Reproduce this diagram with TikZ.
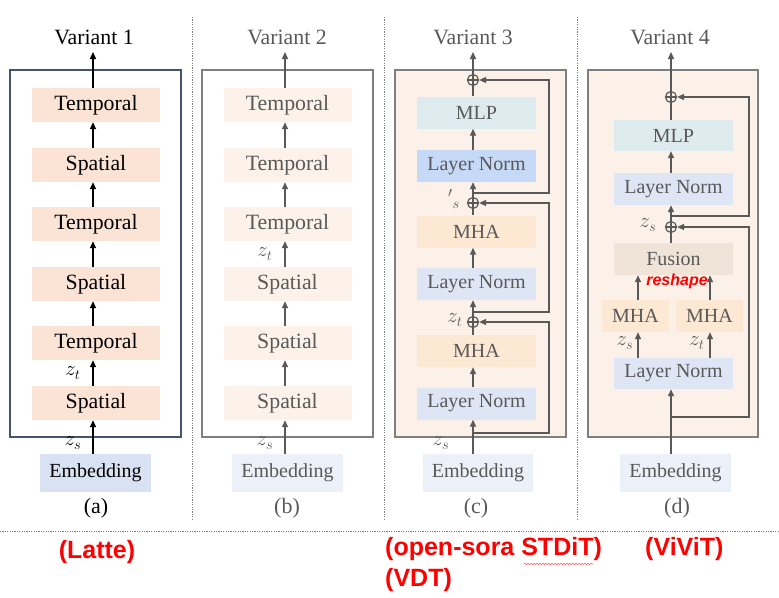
\documentclass[tikz,border=0pt]{standalone}
\usepackage{fontspec}
\setmainfont{Liberation Serif}
\newfontfamily\redfont{Liberation Sans}
\usetikzlibrary{arrows.meta,decorations.pathmorphing}
\definecolor{dkline}{HTML}{44546A}
\definecolor{gline}{HTML}{7F7F7F}
\definecolor{gtext}{HTML}{595959}
\definecolor{peach}{HTML}{FBE4D5}
\definecolor{lpeach}{HTML}{FDF2EA}
\definecolor{boxfill}{HTML}{FCF1E8}
\definecolor{embA}{HTML}{D9E2F3}
\definecolor{embB}{HTML}{ECF0F9}
\definecolor{mlpc}{HTML}{DDEBEF}
\definecolor{lnstrong}{HTML}{C6D9F7}
\definecolor{lnc}{HTML}{DEE5F4}
\definecolor{mhac}{HTML}{FDE8D3}
\definecolor{fusc}{HTML}{F0E3D8}
\definecolor{redc}{HTML}{FF0000}
\begin{document}
\begin{tikzpicture}[x=1pt,y=-1pt]
\tikzset{
  blk/.style={rectangle, inner sep=0pt, minimum width=128pt, minimum height=34pt, font=\fontsize{21.8}{24}\selectfont},
  blkA/.style={blk, fill=peach, text=black},
  blkB/.style={blk, fill=lpeach, text=gtext},
  blkC/.style={rectangle, inner sep=0pt, minimum width=119pt, minimum height=32pt, font=\fontsize{20}{24}\selectfont, text=gtext},
  embstyle/.style={rectangle, inner sep=0pt, minimum width=111pt, minimum height=38pt, font=\fontsize{20}{24}\selectfont},
  ttl/.style={font=\fontsize{21.8}{24}\selectfont, inner sep=0pt},
  subcap/.style={font=\fontsize{22}{24}\selectfont, inner sep=0pt},
  zl/.style={font=\fontsize{20}{22}\selectfont, inner sep=0pt},
  arrA/.style={-{Triangle[length=7pt,width=6pt]}, line width=1.5pt, draw=black},
  arrB/.style={-{Triangle[length=7pt,width=6pt]}, line width=1.4pt, draw=gtext},
  lnB/.style={line width=1.4pt, draw=gtext},
  oplus/.style={circle, draw=gtext, line width=1.2pt, minimum size=11pt, inner sep=0pt,
    path picture={\draw[gtext, line width=1.2pt] (path picture bounding box.north) -- (path picture bounding box.south) (path picture bounding box.west) -- (path picture bounding box.east);}},
  sep/.style={draw=gline, line width=0.8pt, dash pattern=on 1.2pt off 1.2pt},
  redlbl/.style={font=\redfont\bfseries\fontsize{25}{28}\selectfont, text=redc, inner sep=0pt}
}
\useasboundingbox (0,0) rectangle (779,597);

% separators
\coordinate (v1t) at (192,17); \coordinate (v1b) at (192,520);
\coordinate (v2t) at (384,17); \coordinate (v2b) at (384,520);
\coordinate (v3t) at (577,17); \coordinate (v3b) at (577,520);
\coordinate (hl) at (0,531); \coordinate (hr) at (779,531);
\draw[sep] (v1t) -- (v1b);
\draw[sep] (v2t) -- (v2b);
\draw[sep] (v3t) -- (v3b);
\draw[sep] (hl) -- (hr);

%%%%%%%%%% Variant 1
\node[draw=dkline, line width=1.2pt, minimum width=171pt, minimum height=367pt, inner sep=0pt] (bx1) at (95.5,253.5) {};
\node[ttl] (t1) at (94,37) {Variant 1};
\node[blkA] (a1) at (96,105) {Temporal};
\node[blkA] (a2) at (96,165) {Spatial};
\node[blkA] (a3) at (96,224) {Temporal};
\node[blkA] (a4) at (96,284) {Spatial};
\node[blkA] (a5) at (96,343) {Temporal};
\node[blkA] (a6) at (96,403) {Spatial};
\node[embstyle, fill=embA, text=black] (e1) at (95.5,473) {Embedding};
\node[subcap] (c1) at (96,508) {(a)};
\coordinate (ax1) at (93,0);
\coordinate (top1) at (93,52);
\draw[arrA] (e1.north -| ax1) -- (a6.south -| ax1);
\draw[arrA] (a6.north -| ax1) -- (a5.south -| ax1);
\draw[arrA] (a5.north -| ax1) -- (a4.south -| ax1);
\draw[arrA] (a4.north -| ax1) -- (a3.south -| ax1);
\draw[arrA] (a3.north -| ax1) -- (a2.south -| ax1);
\draw[arrA] (a2.north -| ax1) -- (a1.south -| ax1);
\draw[arrA] (a1.north -| ax1) -- (top1);
\node[zl] (zt1) at (73,373) {$z_t$};
\node[zl] (zs1) at (73,443) {$z_s$};

%%%%%%%%%% Variant 2
\node[draw=gline, line width=1.2pt, minimum width=171pt, minimum height=367pt, inner sep=0pt] (bx2) at (287.5,253.5) {};
\node[ttl, text=gtext] (t2) at (287,37) {Variant 2};
\node[blkB] (b1) at (287.5,105) {Temporal};
\node[blkB] (b2) at (287.5,165) {Temporal};
\node[blkB] (b3) at (287.5,224) {Temporal};
\node[blkB] (b4) at (287.5,284) {Spatial};
\node[blkB] (b5) at (287.5,343) {Spatial};
\node[blkB] (b6) at (287.5,403) {Spatial};
\node[embstyle, fill=embB, text=gtext] (e2) at (287.5,473) {Embedding};
\node[subcap, text=gtext] (c2) at (287,508) {(b)};
\coordinate (ax2) at (285,0);
\coordinate (top2) at (285,52);
\draw[arrB] (e2.north -| ax2) -- (b6.south -| ax2);
\draw[arrB] (b6.north -| ax2) -- (b5.south -| ax2);
\draw[arrB] (b5.north -| ax2) -- (b4.south -| ax2);
\draw[arrB] (b4.north -| ax2) -- (b3.south -| ax2);
\draw[arrB] (b3.north -| ax2) -- (b2.south -| ax2);
\draw[arrB] (b2.north -| ax2) -- (b1.south -| ax2);
\draw[arrB] (b1.north -| ax2) -- (top2);
\node[zl, text=gtext] (zt2) at (265,254) {$z_t$};
\node[zl, text=gtext] (zs2) at (265,443) {$z_s$};

%%%%%%%%%% Variant 3
\node[draw=gline, fill=boxfill, line width=1.6pt, minimum width=171pt, minimum height=367pt, inner sep=0pt] (bx3) at (480.5,253.5) {};
\node[ttl, text=gtext] (t3) at (473,37) {Variant 3};
\node[blkC, fill=mlpc] (mlp3) at (476.5,112.5) {MLP};
\node[blkC, fill=lnstrong] (ln3a) at (476.5,166) {Layer Norm};
\node[blkC, fill=mhac] (mha3a) at (476.5,231.5) {MHA};
\node[blkC, fill=lnc] (ln3b) at (476.5,284) {Layer Norm};
\node[blkC, fill=mhac] (mha3b) at (476.5,351) {MHA};
\node[blkC, fill=lnc] (ln3c) at (476.5,403.5) {Layer Norm};
\node[embstyle, fill=embB, text=gtext, minimum width=110pt] (e3) at (478,473) {Embedding};
\node[subcap, text=gtext] (c3) at (476,508) {(c)};
\coordinate (ax3) at (473,0);
\coordinate (r3) at (549,0);
\coordinate (top3) at (473,52);
\node[oplus] (p3a) at (473,80) {};
\node[oplus] (p3b) at (473,203) {};
\node[oplus] (p3c) at (473,322) {};
\coordinate (s3a) at (473,433);
\coordinate (s3b) at (473,312);
\coordinate (s3c) at (473,193);
% main path
\draw[arrB] (e3.north -| ax3) -- (ln3c.south -| ax3);
\draw[arrB] (ln3c.north -| ax3) -- (mha3b.south -| ax3);
\draw[lnB] (mha3b.north -| ax3) -- (p3c.south);
\draw[arrB] (p3c.north) -- (ln3b.south -| ax3);
\draw[arrB] (ln3b.north -| ax3) -- (mha3a.south -| ax3);
\draw[lnB] (mha3a.north -| ax3) -- (p3b.south);
\draw[arrB] (p3b.north) -- (ln3a.south -| ax3);
\draw[arrB] (ln3a.north -| ax3) -- (mlp3.south -| ax3);
\draw[lnB] (mlp3.north -| ax3) -- (p3a.south);
\draw[arrB] (p3a.north) -- (top3);
% skips
\draw[arrB] (s3a) -| (r3 |- p3c) -- (p3c.east);
\draw[arrB] (s3b) -| (r3 |- p3b) -- (p3b.east);
\draw[arrB] (s3c) -| (r3 |- p3a) -- (p3a.east);
\node[zl, text=gtext] (zs3) at (441,443) {$z_s$};
\node[zl, text=gtext] (zt3) at (455,320) {$z_t$};
\node[zl, text=gtext] (zp3) at (454,199) {$^{\prime}{}_{s}$};

%%%%%%%%%% Variant 4
\node[draw=gline, fill=boxfill, line width=1.6pt, minimum width=170pt, minimum height=367pt, inner sep=0pt] (bx4) at (673,253.5) {};
\node[ttl, text=gtext] (t4) at (670,37) {Variant 4};
\node[blkC, fill=mlpc, minimum height=31pt] (mlp4) at (673.5,135.5) {MLP};
\node[blkC, fill=lnc] (ln4a) at (673.5,189) {Layer Norm};
\node[blkC, fill=fusc] (fus4) at (673.5,259) {Fusion};
\node[blkC, fill=mhac, minimum width=67pt] (mhaL) at (635.5,316) {MHA};
\node[blkC, fill=mhac, minimum width=67pt] (mhaR) at (709.5,316) {MHA};
\node[blkC, fill=lnc, minimum height=31pt] (ln4b) at (673.5,373.5) {Layer Norm};
\node[embstyle, fill=embB, text=gtext] (e4) at (675.5,473) {Embedding};
\node[subcap, text=gtext] (c4) at (677,508) {(d)};
\node[font=\redfont\bfseries\itshape\fontsize{16}{18}\selectfont, text=redc, inner sep=0pt] (rs) at (677,281) {reshape};
\coordinate (ax4) at (671,0);
\coordinate (axL) at (638,0);
\coordinate (axR) at (710,0);
\coordinate (r4) at (749,0);
\coordinate (top4) at (671,52);
\node[oplus] (p4a) at (671,97) {};
\node[oplus] (p4b) at (671,227) {};
\coordinate (s4a) at (671,417);
\coordinate (s4b) at (671,216);
\draw[arrB] (e4.north -| ax4) -- (ln4b.south -| ax4);
\draw[arrB] (ln4b.north -| axL) -- (mhaL.south -| axL);
\draw[arrB] (ln4b.north -| axR) -- (mhaR.south -| axR);
\draw[arrB] (mhaL.north -| axL) -- (fus4.south -| axL);
\draw[arrB] (mhaR.north -| axR) -- (fus4.south -| axR);
\draw[lnB] (fus4.north -| ax4) -- (p4b.south);
\draw[arrB] (p4b.north) -- (ln4a.south -| ax4);
\draw[arrB] (ln4a.north -| ax4) -- (mlp4.south -| ax4);
\draw[lnB] (mlp4.north -| ax4) -- (p4a.south);
\draw[arrB] (p4a.north) -- (top4);
\draw[arrB] (s4a) -| (r4 |- p4b) -- (p4b.east);
\draw[arrB] (s4b) -| (r4 |- p4a) -- (p4a.east);
\node[zl, text=gtext] (zs4a) at (648,225) {$z_s$};
\node[zl, text=gtext] (zs4b) at (625,343) {$z_s$};
\node[zl, text=gtext] (zt4) at (697,343) {$z_t$};

%%%%%%%%%% red labels
\node[redlbl] (latte) at (97,552) {(Latte)};
\node[redlbl, anchor=west] (osora) at (385,549) {(open-sora STDiT)};
\node[redlbl, anchor=west] (vdt) at (385,580) {(VDT)};
\node[redlbl, anchor=west] (vivit) at (645,549) {(ViViT)};
\coordinate (wv1) at (524,564);
\coordinate (wv2) at (593,564);
\draw[redc!60, line width=0.6pt, decorate, decoration={snake, amplitude=0.8pt, segment length=3pt}] (wv1) -- (wv2);
\end{tikzpicture}
\end{document}
